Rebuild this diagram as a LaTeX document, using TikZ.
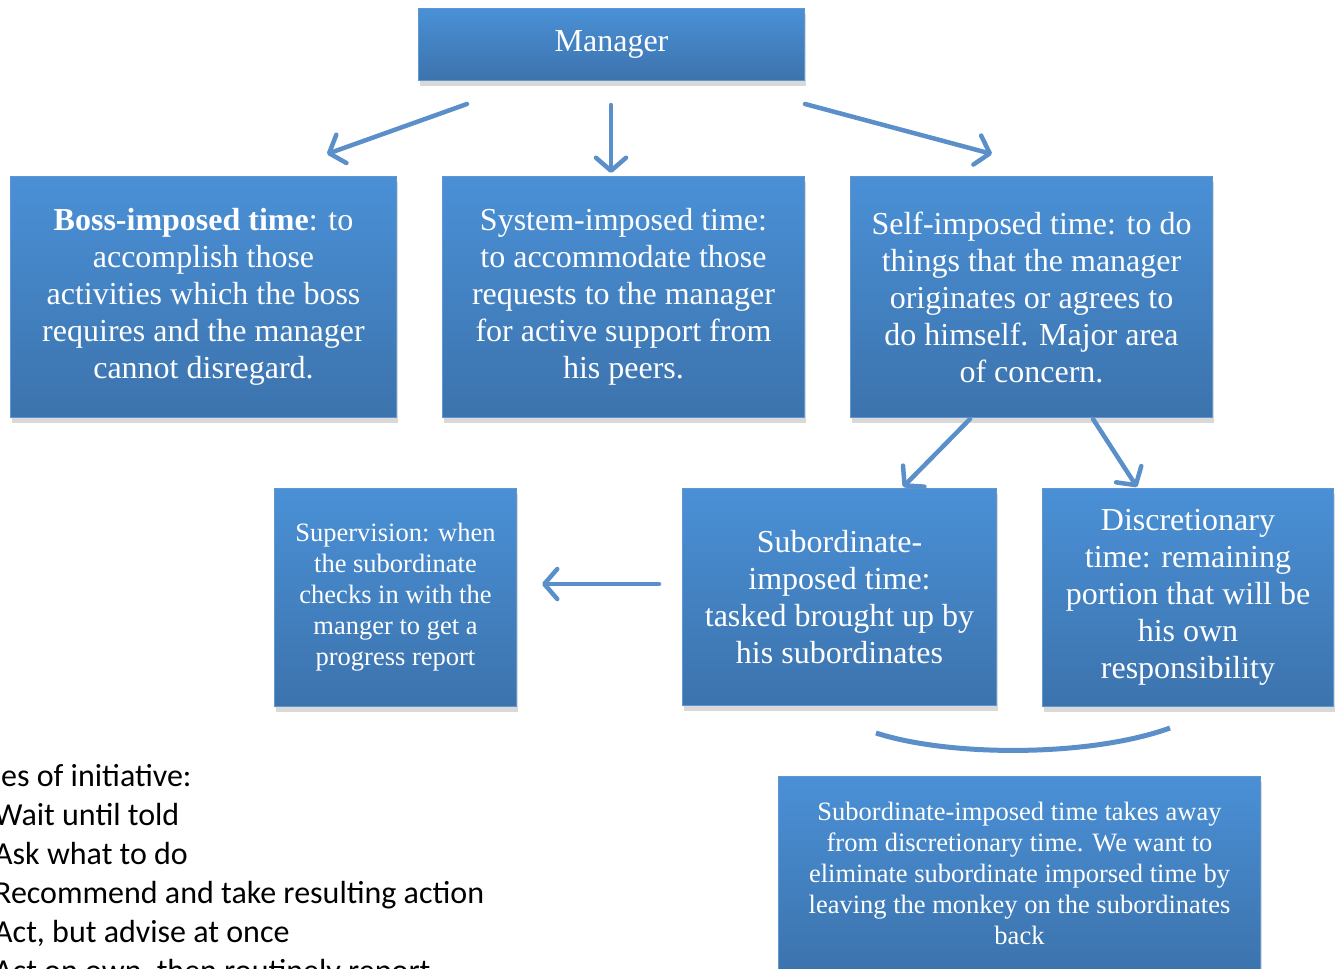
\documentclass[tikz,border=0pt]{standalone}
\usepackage{fontspec}
\setmainfont{Liberation Serif}
\newfontfamily\calfont{Carlito}
\usetikzlibrary{arrows.meta,shadows}
\definecolor{boxtop}{RGB}{74,144,214}
\definecolor{boxbot}{RGB}{60,115,173}
\definecolor{boxedge}{RGB}{98,150,208}
\definecolor{arrowc}{RGB}{90,143,202}
\tikzset{
  box/.style={anchor=north west, inner sep=0pt, align=center, text=white,
    top color=boxtop, bottom color=boxbot, draw=boxedge, line width=1pt,
    drop shadow={opacity=0.25, shadow xshift=1pt, shadow yshift=-5pt, fill=black!60}},
  big/.style={font=\fontsize{32}{37}\selectfont},
  small/.style={font=\fontsize{26.5}{31}\selectfont},
  arr/.style={draw=arrowc, line width=4.5pt, line cap=round,
    -{Straight Barb[length=13pt,width=30pt,line cap=round,line join=round]}},
  lefttext/.style={anchor=base west, inner sep=0pt,
    font=\calfont\fontsize{32}{39}\selectfont}
}
\begin{document}
\begin{tikzpicture}[x=1pt,y=-1pt]
\useasboundingbox (0,0) rectangle (1336,969);
\clip (0,0) rectangle (1336,969);
% boxes
\node[box, big, minimum width=386pt, minimum height=72pt] (mgr) at (418,8) {Manager};
\node[box, big, minimum width=386pt, minimum height=241pt] (boss) at (10,176)
  {\textbf{Boss-imposed time}: to\\accomplish those\\activities which the boss\\requires and the manager\\cannot disregard.};
\node[box, big, minimum width=362pt, minimum height=241pt] (sys) at (442,176)
  {System-imposed time:\\to accommodate those\\requests to the manager\\for active support from\\his peers.};
\node[box, big, minimum width=362pt, minimum height=241pt] (self) at (850,176)
  {Self-imposed time: to do\\things that the manager\\originates or agrees to\\do himself. Major area\\of concern.};
\node[box, small, minimum width=242pt, minimum height=218pt] (sup) at (274,488)
  {Supervision: when\\the subordinate\\checks in with the\\manger to get a\\progress report};
\node[box, big, minimum width=314pt, minimum height=217pt] (sub) at (682,488)
  {Subordinate-\\imposed time:\\tasked brought up by\\his subordinates};
\node[box, big, minimum width=291pt, minimum height=218pt] (disc) at (1042,488)
  {Discretionary\\time: remaining\\portion that will be\\his own\\responsibility};
\node[box, small, minimum width=482pt, minimum height=194pt] (note) at (778,776)
  {Subordinate-imposed time takes away\\from discretionary time. We want to\\eliminate subordinate imporsed time by\\leaving the monkey on the subordinates\\back};
% connector end points
\coordinate (a1s) at (467,104); \coordinate (a1e) at (327,154);
\coordinate (a2s) at (611,105); \coordinate (a2e) at (611,173);
\coordinate (a3s) at (805,104); \coordinate (a3e) at (992,154);
\coordinate (a4s) at (970,419); \coordinate (a4e) at (903,487);
\coordinate (a5s) at (1093,419); \coordinate (a5e) at (1137,487);
\coordinate (a6s) at (659,584); \coordinate (a6e) at (542,584);
\coordinate (b1) at (876,733); \coordinate (b2) at (1170,728);
\draw[arr] (a1s) -- (a1e);
\draw[arr] (a2s) -- (a2e);
\draw[arr] (a3s) -- (a3e);
\draw[arr] (a4s) -- (a4e);
\draw[arr] (a5s) -- (a5e);
\draw[arr] (a6s) -- (a6e);
\draw[draw=arrowc, line width=5pt] (b1) .. controls (950,757) and (1090,757) .. (b2);
% left text
\node[lefttext] (lt0) at (1,786) {es of initiative:};
\node[lefttext] (lt1) at (-6,825) {Wait until told};
\node[lefttext] (lt2) at (-6,864) {Ask what to do};
\node[lefttext] (lt3) at (-6,903) {Recommend and take resulting action};
\node[lefttext] (lt4) at (-6,942) {Act, but advise at once};
\node[lefttext] (lt5) at (-6,981) {Act on own, then routinely report};
\end{tikzpicture}
\end{document}
